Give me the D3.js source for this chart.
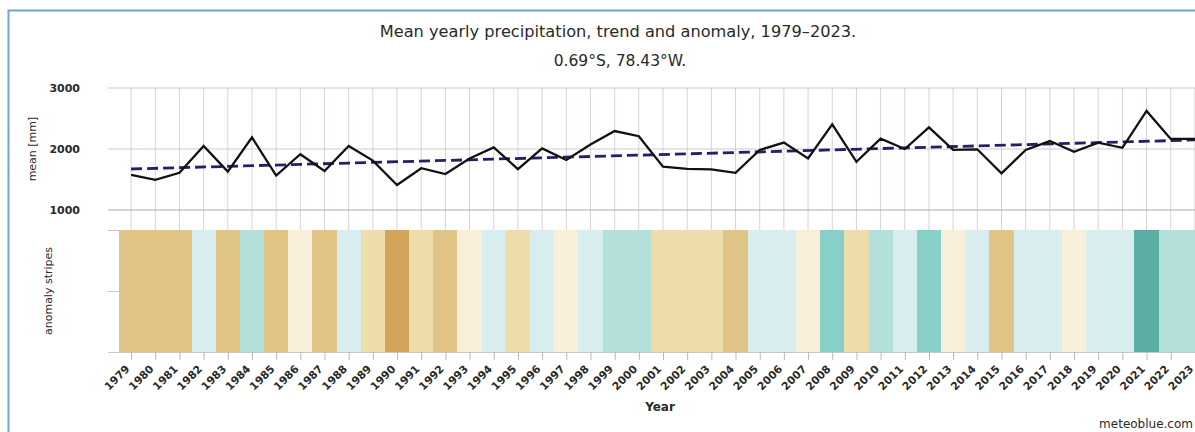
<!DOCTYPE html>
<html>
<head>
<meta charset="utf-8">
<script src="https://cdn.jsdelivr.net/npm/d3@7/dist/d3.min.js"></script>
<style>
  html, body { margin: 0; padding: 0; background: #fff; }
  svg { display: block; font-family: "DejaVu Sans", Verdana, sans-serif; }
</style>
</head>
<body>
<svg id="chart" width="1195" height="432"></svg>
<script>
// ---- data ----
const years = [1979,1980,1981,1982,1983,1984,1985,1986,1987,1988,1989,1990,1991,1992,1993,1994,1995,1996,1997,1998,1999,2000,2001,2002,2003,2004,2005,2006,2007,2008,2009,2010,2011,2012,2013,2014,2015,2016,2017,2018,2019,2020,2021,2022,2023];
const precipitation = [1575,1495,1610,2050,1630,2190,1565,1915,1640,2050,1810,1410,1685,1590,1845,2025,1670,2010,1820,2075,2295,2210,1710,1675,1665,1610,1985,2105,1845,2405,1790,2170,2000,2355,1985,1995,1600,1985,2130,1955,2105,2020,2625,2165,2165];
const trendYears = [1979, 2023];
const trendValues = [1672, 2148];
// anomaly class per year (negative = drier, positive = wetter)
const anomalyClass = [-3,-3,-3,1,-3,2,-3,-1,-3,1,-2,-4,-2,-3,-1,1,-2,1,-1,1,2,2,-2,-2,-2,-3,1,1,-1,3,-2,2,1,3,-1,1,-3,1,1,-1,1,1,4,2,2];
const anomalyLevels = [-4,-3,-2,-1,1,2,3,4];
const meanTicks = [1000, 2000, 3000];
const titleText = "Mean yearly precipitation, trend and anomaly, 1979\u20132023.";
const subtitleText = "0.69\u00B0S, 78.43\u00B0W.";

// ---- styles ----
const stripeColors = ["#d1a458","#e0c586","#efdcab","#f7efd9","#d8eded","#b3e0db","#88d0c7","#5aaea4"];
const gridColor = "#d9d2d4";
const textColor = "#2a2a2a";

const svg = d3.select("#chart");

// frame
svg.append("path")
  .attr("d", "M8.5,432 L8.5,10.5 L1195,10.5")
  .attr("fill", "none").attr("stroke", "#6fa3dc").attr("stroke-width", 2);

// scales
const x = d3.scaleLinear().domain([1978.5, 2023.5]).range([119, 1207]);
const y = d3.scaleLinear().domain([1000, 3000]).range([210, 88]);
const ys = d3.scaleLinear().domain([0, 2]).range([352, 230]);
const color = d3.scaleOrdinal().domain(anomalyLevels).range(stripeColors);

// titles
svg.append("text").attr("x", 618).attr("y", 37).attr("text-anchor", "middle")
  .attr("font-size", 16.2).attr("fill", textColor).text(titleText);
svg.append("text").attr("x", 620).attr("y", 66).attr("text-anchor", "middle")
  .attr("font-size", 15.5).attr("fill", textColor).text(subtitleText);

// vertical grid lines (top panel)
svg.append("g").selectAll("line").data(years).join("line")
  .attr("x1", d => x(d)).attr("x2", d => x(d))
  .attr("y1", y(3000)).attr("y2", ys(2))
  .attr("stroke", gridColor).attr("stroke-width", 1);

// horizontal grid lines
svg.append("g").selectAll("line").data(meanTicks).join("line")
  .attr("x1", 108).attr("x2", 1195)
  .attr("y1", d => y(d)).attr("y2", d => y(d))
  .attr("stroke", d => d === 1000 ? "#a9a9bf" : "#cfc8cc").attr("stroke-width", 1);

// y axis labels
const yAxis = d3.axisLeft(y).tickValues(meanTicks).tickSize(0).tickPadding(0).tickFormat(d3.format("d"));
const yg = svg.append("g").attr("transform", "translate(80,0)").call(yAxis);
yg.select(".domain").remove();
yg.selectAll("text").attr("font-size", 11).attr("font-family", "DejaVu Sans, sans-serif")
  .attr("fill", textColor).attr("font-weight", "bold");

svg.append("text").attr("transform", `translate(36,${y(2000)}) rotate(-90)`)
  .attr("text-anchor", "middle").attr("font-size", 11).attr("fill", textColor).text("mean [mm]");

// stripes
svg.append("g").attr("shape-rendering", "crispEdges").selectAll("rect").data(years).join("rect")
  .attr("x", d => x(d - 0.5)).attr("width", d => x(d + 0.5) - x(d - 0.5) + 0.6)
  .attr("y", ys(2)).attr("height", ys(0) - ys(2))
  .attr("fill", (d, i) => color(anomalyClass[i]));

// stripe panel left ticks and bottom line
const sAxis = d3.axisLeft(ys).tickValues([0, 1, 2]).tickSize(11).tickFormat("");
const sg = svg.append("g").attr("transform", "translate(119,0)").call(sAxis);
sg.select(".domain").remove();
sg.selectAll("line").attr("stroke", "#c9c6cc");
svg.append("line").attr("x1", 108).attr("x2", 1195).attr("y1", ys(0) + 0.5).attr("y2", ys(0) + 0.5)
  .attr("stroke", "#c9c6cc");

svg.append("text").attr("transform", `translate(52,${ys(1)}) rotate(-90)`)
  .attr("text-anchor", "middle").attr("font-size", 11).attr("fill", textColor).text("anomaly stripes");

// x axis
const xAxis = d3.axisBottom(x).tickValues(years).tickSize(8).tickPadding(2).tickFormat(d3.format("d"));
const xg = svg.append("g").attr("transform", `translate(0,${ys(0)})`).call(xAxis);
xg.select(".domain").remove();
xg.selectAll("line").attr("stroke", "#b9b6bc");
xg.selectAll("text")
  .attr("font-size", 10.8).attr("font-family", "DejaVu Sans, sans-serif").attr("fill", textColor)
  .attr("font-weight", "bold")
  .attr("text-anchor", "end")
  .attr("x", 0).attr("y", 0).attr("dy", "0.35em")
  .attr("transform", "translate(-4,15) rotate(-45)");

svg.append("text").attr("x", 660).attr("y", 411).attr("text-anchor", "middle")
  .attr("font-size", 12).attr("font-weight", "bold").attr("fill", textColor).text("Year");

svg.append("text").attr("x", 1193).attr("y", 428).attr("text-anchor", "end")
  .attr("font-size", 12).attr("fill", textColor).text("meteoblue.com");

// trend line
svg.append("path").datum(trendYears.map((d, i) => [d, trendValues[i]]))
  .attr("d", d3.line().x(d => x(d[0])).y(d => y(d[1])))
  .attr("fill", "none").attr("stroke", "#1f2363").attr("stroke-width", 2.8)
  .attr("stroke-dasharray", "11,5");

// precipitation line
svg.append("path").datum(years.map((d, i) => [d, precipitation[i]]))
  .attr("d", d3.line().x(d => x(d[0])).y(d => y(d[1])))
  .attr("fill", "none").attr("stroke", "#111").attr("stroke-width", 2.3)
  .attr("stroke-linejoin", "miter");
</script>
</body>
</html>
